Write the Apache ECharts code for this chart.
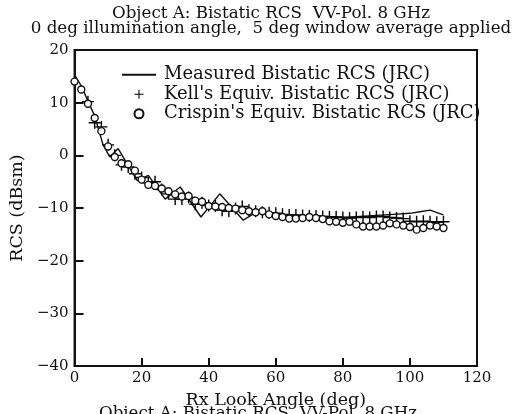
<!DOCTYPE html>
<html>
<head>
<meta charset="utf-8">
<script src="https://cdn.jsdelivr.net/npm/echarts@6/dist/echarts.min.js"></script>
<style>
  html, body { margin: 0; padding: 0; background: #fff; }
  #chart { width: 516px; height: 414px; }
</style>
</head>
<body>
<div id="chart"></div>
<script>
const measuredAngle = [0, 2, 4, 6, 8.5, 10.5, 13, 18.7, 20, 22, 27, 31.5, 37.7, 43.3, 50.3, 54.2, 58, 62, 66, 70, 75, 80, 85, 90, 95, 100, 103, 106, 110];
const measuredRcs = [15.3, 13.2, 10.3, 7.5, 2.0, -0.3, 1.3, -4.8, -4.4, -3.8, -8.3, -6.0, -11.7, -7.3, -12.3, -10.8, -11.2, -11.3, -11.5, -11.6, -11.6, -11.8, -11.6, -11.4, -11.2, -11.0, -10.7, -10.4, -11.3];

const kellAngle = [4, 6, 8, 10, 12, 14, 16, 18, 20, 22, 24, 26, 28, 30, 32, 34, 36, 38, 40, 42, 44, 46, 48, 50, 52, 54, 56, 58, 60, 62, 64, 66, 68, 70, 72, 74, 76, 78, 80, 82, 84, 86, 88, 90, 92, 94, 96, 98, 100, 102, 104, 106, 108, 110];
const kellRcs = [10.2, 6.2, 5.4, 2.0, 0.0, -1.8, -2.2, -3.5, -4.2, -5.2, -5.0, -6.5, -7.3, -8.3, -8.3, -8.0, -9.3, -9.0, -9.5, -9.6, -10.4, -10.6, -10.1, -9.7, -10.4, -10.6, -10.8, -10.9, -11.0, -11.2, -11.3, -11.3, -11.4, -11.5, -11.5, -11.6, -11.7, -11.7, -11.8, -11.9, -11.8, -11.7, -11.8, -11.6, -11.6, -11.8, -11.9, -12.0, -12.5, -12.6, -12.5, -12.6, -12.7, -12.6];

const crispinAngle = [0, 2, 4, 6, 8, 10, 12, 14, 16, 18, 20, 22, 24, 26, 28, 30, 32, 34, 36, 38, 40, 42, 44, 46, 48, 50, 52, 54, 56, 58, 60, 62, 64, 66, 68, 70, 72, 74, 76, 78, 80, 82, 84, 86, 88, 90, 92, 94, 96, 98, 100, 102, 104, 106, 108, 110];
const crispinRcs = [14.0, 12.5, 9.8, 7.1, 4.6, 1.7, -0.3, -1.5, -1.7, -2.9, -4.6, -5.6, -5.8, -6.3, -6.8, -7.4, -7.8, -7.7, -8.6, -8.8, -9.6, -9.7, -9.8, -10.0, -10.1, -10.4, -10.6, -10.8, -10.6, -11.2, -11.5, -11.7, -12.0, -12.0, -11.9, -11.7, -11.9, -12.1, -12.5, -12.6, -12.8, -12.6, -13.1, -13.5, -13.5, -13.5, -13.3, -12.9, -13.1, -13.3, -13.6, -14.1, -13.8, -13.3, -13.5, -13.8];

const xTicks = [0, 20, 40, 60, 80, 100, 120];
const yTicks = [-40, -30, -20, -10, 0, 10, 20];

const FONT = 'DejaVu Serif';
const INK = '#111';

const chart = echarts.init(document.getElementById('chart'));

const pairs = (xs, ys) => xs.map((x, i) => [x, ys[i]]);
const minus = v => String(v).replace('-', '\u2212');

const option = {
  animation: false,
  backgroundColor: '#fff',
  title: {
    text: 'Object A: Bistatic RCS  VV-Pol. 8 GHz\n0 deg illumination angle,  5 deg window average applied',
    left: 266,
    top: 1,
    textAlign: 'center',
    textStyle: {
      fontFamily: FONT,
      fontWeight: 'normal',
      fontSize: 16.7,
      lineHeight: 15,
      color: INK,
    },
  },
  graphic: [
    {
      type: 'text',
      left: 'center',
      top: 405,
      style: {
        text: 'Object A: Bistatic RCS  VV-Pol. 8 GHz',
        font: '16.7px "DejaVu Serif"',
        fill: INK,
      },
    },
  ],
  legend: {
    orient: 'vertical',
    left: 116,
    top: 60,
    itemWidth: 34,
    itemHeight: 9,
    itemGap: 0,
    textStyle: {
      fontFamily: FONT,
      fontSize: 18,
      lineHeight: 19.5,
      color: INK,
      padding: [0, 0, 0, 3],
    },
    data: [
      { name: 'Measured Bistatic RCS (JRC)', itemStyle: { opacity: 0 } },
      "Kell's Equiv. Bistatic RCS (JRC)",
      "Crispin's Equiv. Bistatic RCS (JRC)",
    ],
  },
  grid: {
    left: 66,
    right: 39,
    top: 50,
    bottom: 40,
    show: true,
    borderColor: INK,
    borderWidth: 2,
  },
  xAxis: {
    type: 'value',
    min: xTicks[0],
    max: xTicks[xTicks.length - 1],
    interval: 20,
    name: 'Rx Look Angle (deg)',
    nameLocation: 'middle',
    nameGap: 20,
    nameTextStyle: { fontFamily: FONT, fontSize: 17.5, color: INK },
    axisLine: { onZero: false, lineStyle: { color: INK, width: 2 } },
    axisTick: { inside: true, length: 8, lineStyle: { color: INK, width: 2 } },
    axisLabel: { fontFamily: FONT, fontSize: 15, color: INK, margin: 5 },
    splitLine: { show: false },
  },
  yAxis: {
    type: 'value',
    min: yTicks[0],
    max: yTicks[yTicks.length - 1],
    interval: 10,
    name: 'RCS (dBsm)',
    nameLocation: 'middle',
    nameGap: 34,
    nameTextStyle: { fontFamily: FONT, fontSize: 17.5, color: INK },
    axisLine: { onZero: false, lineStyle: { color: INK, width: 2 } },
    axisTick: { inside: true, length: 9, lineStyle: { color: INK, width: 2 } },
    axisLabel: { fontFamily: FONT, fontSize: 15, color: INK, margin: 6, formatter: minus },
    splitLine: { show: false },
  },
  series: [
    {
      name: 'Measured Bistatic RCS (JRC)',
      type: 'line',
      data: pairs(measuredAngle, measuredRcs),
      symbol: 'none',
      lineStyle: { color: INK, width: 1.4 },
      itemStyle: { color: INK },
      z: 3,
    },
    {
      name: "Kell's Equiv. Bistatic RCS (JRC)",
      type: 'scatter',
      data: pairs(kellAngle, kellRcs),
      // plus sign drawn as a filled cross
      symbol: 'path://M-6,-0.7H-0.7V-6H0.7V-0.7H6V0.7H0.7V6H-0.7V0.7H-6Z',
      symbolSize: 12,
      symbolKeepAspect: true,
      itemStyle: { color: '#000', opacity: 1 },
      z: 4,
    },
    {
      name: "Crispin's Equiv. Bistatic RCS (JRC)",
      type: 'scatter',
      data: pairs(crispinAngle, crispinRcs),
      symbol: 'circle',
      symbolSize: 7,
      symbolKeepAspect: true,
      itemStyle: { color: '#fff', borderColor: INK, borderWidth: 1.4, opacity: 1 },
      z: 5,
    },
  ],
};

chart.setOption(option);
</script>
</body>
</html>
